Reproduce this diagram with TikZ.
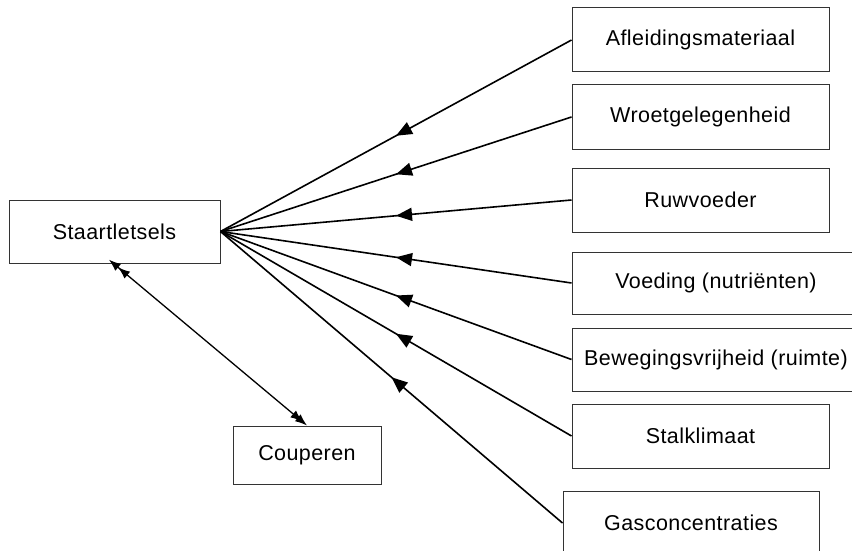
\documentclass[tikz,border=0pt]{standalone}
\usepackage{fontspec}
\setmainfont{Liberation Sans}[LetterSpace=2]
\usetikzlibrary{arrows.meta,decorations.markings}
\begin{document}
\begin{tikzpicture}[x=1pt,y=-1pt,
  box/.style={draw=black!80,line width=1pt,fill=white,inner sep=0pt,
    font=\fontsize{21.5}{25}\selectfont},
  factor/.style={line width=1.6pt,postaction={decorate,decoration={markings,
    mark=at position 0.5 with {\arrow{Triangle[length=16pt,width=13pt]}}}}},
  both/.style={line width=1.3pt,
    {Latex[length=12pt,width=9pt,sep=-6pt]Latex[length=12pt,width=9pt]}-{Latex[length=12pt,width=9pt,sep=-6pt]Latex[length=12pt,width=9pt]}}
]
\useasboundingbox (0,0) rectangle (852,551);
\clip (0,0) rectangle (852,551);
\fill[white] (0,0) rectangle (852,551);
\node[box,minimum width=211pt,minimum height=63pt] (st) at (114.5,231.5) {Staartletsels};
\node[box,minimum width=257pt,minimum height=64pt] (af) at (700.5,40) {Afleidingsmateriaal};
\node[box,minimum width=257pt,minimum height=64pt] (wr) at (700.5,117) {Wroetgelegenheid};
\node[box,minimum width=257pt,minimum height=64pt] (ru) at (700.5,200) {Ruwvoeder};
\node[box,minimum width=288pt,minimum height=62pt] (vo) at (716,283) {Voeding (nutriënten)};
\node[box,minimum width=288pt,minimum height=63pt] (be) at (716,359.5) {Bewegingsvrijheid (ruimte)};
\node[box,minimum width=257pt,minimum height=64pt] (sk) at (700.5,436) {Stalklimaat};
\node[box,minimum width=256pt,minimum height=64pt] (ga) at (691,523) {Gasconcentraties};
\node[box,minimum width=148pt,minimum height=58pt] (co) at (307,455) {Couperen};
\foreach \b in {af,wr,ru,vo,be,sk,ga}
  \draw[factor] (\b.west) -- (st.east);
\draw[both] ([xshift=-1pt]st.south) -- (co.north);
\end{tikzpicture}
\end{document}
